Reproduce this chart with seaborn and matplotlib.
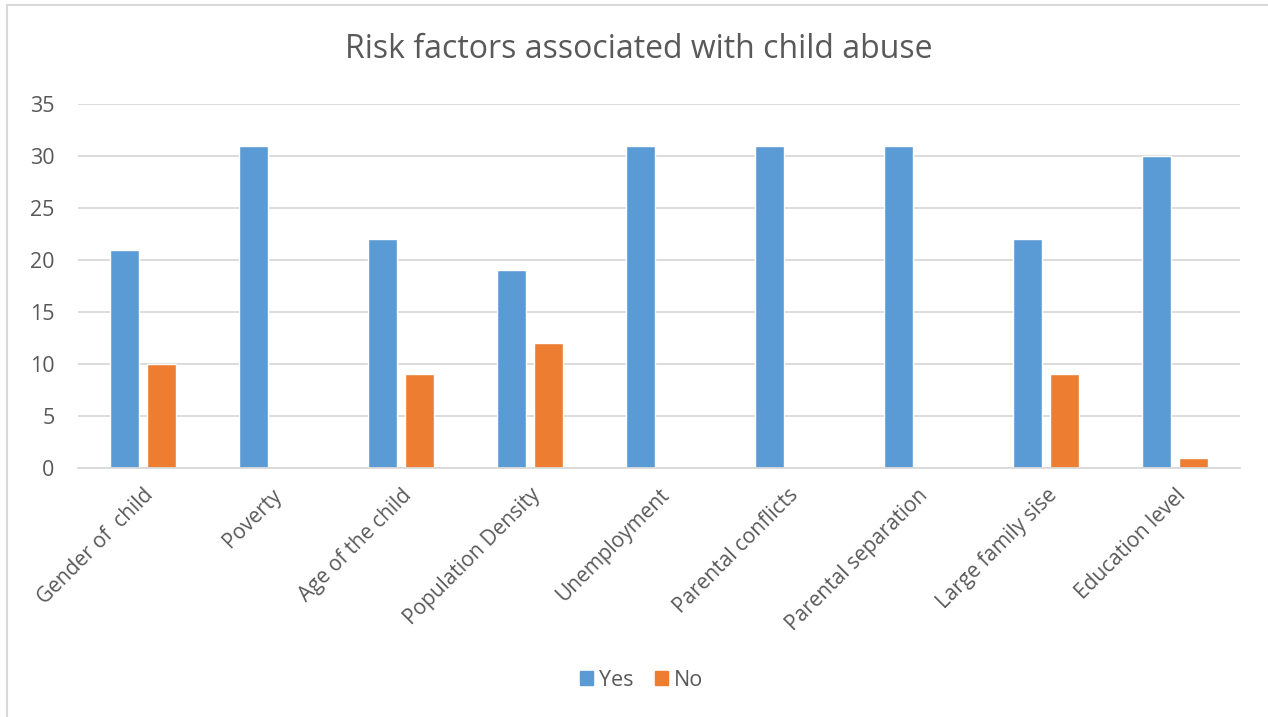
import pandas as pd
import numpy as np
import matplotlib
matplotlib.use('Agg')
import matplotlib.pyplot as plt
import matplotlib.patches as mpatches
from matplotlib.lines import Line2D
import seaborn as sns

# data
categories = ['Gender of  child', 'Poverty', 'Age of the child', 'Population Density',
              'Unemployment', 'Parental conflicts', 'Parental separation',
              'Large family sise', 'Education level']
yes_vals = [21, 31, 22, 19, 31, 31, 31, 22, 30]
no_vals = [10, 0, 9, 12, 0, 0, 0, 9, 1]
series = ['Yes', 'No']

BLUE = '#5B9BD5'
ORANGE = '#ED7D31'
TEXT = '#595959'
GRID = '#D9D9D9'

df = pd.DataFrame({
    'Factor': categories * 2,
    'Answer': ['Yes'] * len(categories) + ['No'] * len(categories),
    'Count': yes_vals + no_vals,
})

sns.set_theme(style='white')
plt.rcParams['font.family'] = ['Open Sans', 'DejaVu Sans']

fig = plt.figure(figsize=(12.68, 7.17), dpi=100)
ax = fig.add_axes([78 / 1268, 1 - 468 / 717, (1240 - 78) / 1268, (468 - 104) / 717])

sns.barplot(data=df, x='Factor', y='Count', hue='Answer', hue_order=series,
            palette=[BLUE, ORANGE], width=0.574, gap=0.216, ax=ax,
            saturation=1, legend=False, errorbar=None)

ax.set_ylim(0, 35)
ax.set_yticks(range(0, 36, 5))
ax.set_xlim(-0.5, len(categories) - 0.5)
ax.yaxis.grid(True, color=GRID, linewidth=1.3)
ax.set_axisbelow(True)
for s in ['top', 'right', 'left']:
    ax.spines[s].set_visible(False)
ax.spines['bottom'].set_color(GRID)
ax.spines['bottom'].set_linewidth(1.3)
ax.set_xlabel('')
ax.set_ylabel('')
ax.tick_params(axis='y', length=0, labelsize=15.5, labelcolor=TEXT, pad=17)
ax.tick_params(axis='x', length=0, labelsize=15, labelcolor=TEXT, pad=12)
for lab in ax.get_xticklabels():
    lab.set_rotation(45)
    lab.set_ha('right')
    lab.set_rotation_mode('anchor')

fig.suptitle('Risk factors associated with child abuse', x=0.504, y=0.931,
             fontsize=23, color=TEXT, va='center')

handles = [mpatches.Patch(color=BLUE, label='Yes'), mpatches.Patch(color=ORANGE, label='No')]
fig.legend(handles=handles, loc='center', bbox_to_anchor=(0.506, 1 - 680 / 717), ncol=2,
           frameon=False, fontsize=15.5, labelcolor=TEXT, handlelength=0.6,
           handleheight=0.6, handletextpad=0.3, columnspacing=1.0)

# chart frame edges visible in the reference (left and top)
fig.add_artist(Line2D([7 / 1268, 7 / 1268], [0, 1 - 5 / 717], color=GRID, linewidth=1.5,
                      transform=fig.transFigure))
fig.add_artist(Line2D([7 / 1268, 1], [1 - 5 / 717, 1 - 5 / 717], color=GRID, linewidth=1.5,
                      transform=fig.transFigure))

fig.savefig('out.png', dpi=100, facecolor='white')
